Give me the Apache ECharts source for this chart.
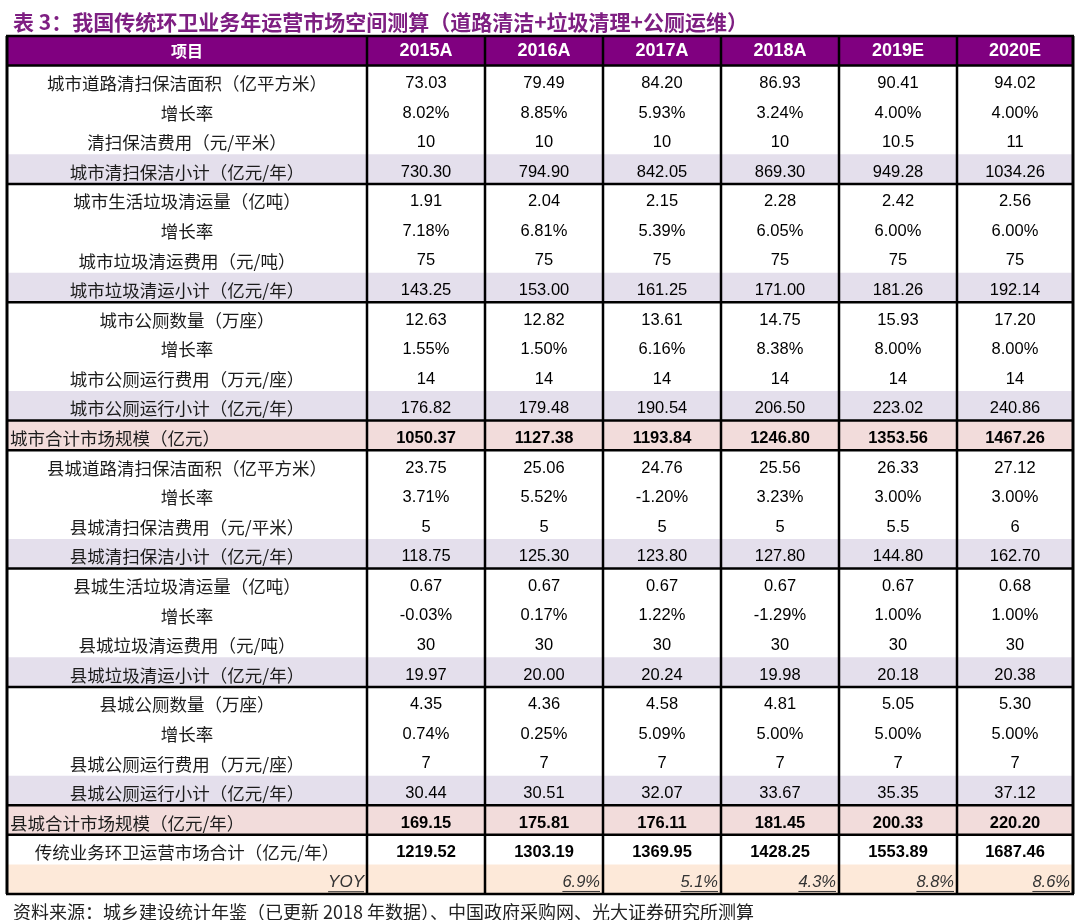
<!DOCTYPE html>
<html><head><meta charset="utf-8">
<script src="https://cdn.jsdelivr.net/npm/echarts@6/dist/echarts.min.js"></script>
<style>html,body{margin:0;padding:0;background:#fff}#c{width:1080px;height:920px}</style>
</head><body><div id="c"></div>
<script>
// ---------- data ----------
const titleText = '表 3：我国传统环卫业务年运营市场空间测算（道路清洁+垃圾清理+公厕运维）';
const sourceText = '资料来源：城乡建设统计年鉴（已更新 2018 年数据）、中国政府采购网、光大证券研究所测算';
const headerLabel = '项目';
const years = ['2015A', '2016A', '2017A', '2018A', '2019E', '2020E'];
const rowLabels = [
  '城市道路清扫保洁面积（亿平方米）', '增长率', '清扫保洁费用（元/平米）', '城市清扫保洁小计（亿元/年）',
  '城市生活垃圾清运量（亿吨）', '增长率', '城市垃圾清运费用（元/吨）', '城市垃圾清运小计（亿元/年）',
  '城市公厕数量（万座）', '增长率', '城市公厕运行费用（万元/座）', '城市公厕运行小计（亿元/年）',
  '城市合计市场规模（亿元）',
  '县城道路清扫保洁面积（亿平方米）', '增长率', '县城清扫保洁费用（元/平米）', '县城清扫保洁小计（亿元/年）',
  '县城生活垃圾清运量（亿吨）', '增长率', '县城垃圾清运费用（元/吨）', '县城垃圾清运小计（亿元/年）',
  '县城公厕数量（万座）', '增长率', '县城公厕运行费用（万元/座）', '县城公厕运行小计（亿元/年）',
  '县城合计市场规模（亿元/年）',
  '传统业务环卫运营市场合计（亿元/年）',
  'YOY'
];
// row kind: n normal, s subtotal, t region total, g grand total, y yoy
const rowKinds = ['n','n','n','s','n','n','n','s','n','n','n','s','t','n','n','n','s','n','n','n','s','n','n','n','s','t','g','y'];
const v2015 = ['73.03','8.02%','10','730.30','1.91','7.18%','75','143.25','12.63','1.55%','14','176.82','1050.37','23.75','3.71%','5','118.75','0.67','-0.03%','30','19.97','4.35','0.74%','7','30.44','169.15','1219.52',''];
const v2016 = ['79.49','8.85%','10','794.90','2.04','6.81%','75','153.00','12.82','1.50%','14','179.48','1127.38','25.06','5.52%','5','125.30','0.67','0.17%','30','20.00','4.36','0.25%','7','30.51','175.81','1303.19','6.9%'];
const v2017 = ['84.20','5.93%','10','842.05','2.15','5.39%','75','161.25','13.61','6.16%','14','190.54','1193.84','24.76','-1.20%','5','123.80','0.67','1.22%','30','20.24','4.58','5.09%','7','32.07','176.11','1369.95','5.1%'];
const v2018 = ['86.93','3.24%','10','869.30','2.28','6.05%','75','171.00','14.75','8.38%','14','206.50','1246.80','25.56','3.23%','5','127.80','0.67','-1.29%','30','19.98','4.81','5.00%','7','33.67','181.45','1428.25','4.3%'];
const v2019 = ['90.41','4.00%','10.5','949.28','2.42','6.00%','75','181.26','15.93','8.00%','14','223.02','1353.56','26.33','3.00%','5.5','144.80','0.67','1.00%','30','20.18','5.05','5.00%','7','35.35','200.33','1553.89','8.8%'];
const v2020 = ['94.02','4.00%','11','1034.26','2.56','6.00%','75','192.14','17.20','8.00%','14','240.86','1467.26','27.12','3.00%','6','162.70','0.68','1.00%','30','20.38','5.30','5.00%','7','37.12','220.20','1687.46','8.6%'];
const yearValues = [v2015, v2016, v2017, v2018, v2019, v2020];

// ---------- layout / style ----------
const COL_EDGES = [0, 360, 478, 596, 714, 832, 950, 1066];
const H_BORDERS = [0, 1, 5, 9, 13, 14, 18, 22, 26, 27, 29];
const FILL = { h: '#800080', n: '#ffffff', s: '#E4DFEC', t: '#F2DCDB', g: '#ffffff', y: '#FDE9D9' };
const NUM_FONT = '"Liberation Sans", Arial, sans-serif';
const CJK_FONT = '"Noto Sans CJK SC", sans-serif';
const NROWS = rowLabels.length + 1;

const measureCtx = document.createElement('canvas').getContext('2d');
function textWidth(t, font) { measureCtx.font = font; return measureCtx.measureText(t).width; }

const cellData = [];
for (let r = 0; r < NROWS; r++) for (let c = 0; c < 7; c++) cellData.push([c, r]);

function renderCell(params, api) {
  const c = api.value(0), r = api.value(1);
  const h = api.size([0, 1])[1];
  const pa = api.coord([COL_EDGES[c], r]);
  const pb = api.coord([COL_EDGES[c + 1], r]);
  const x0 = pa[0], x1 = pb[0], yc = pa[1];
  const kind = r === 0 ? 'h' : rowKinds[r - 1];
  const children = [{
    type: 'rect', shape: { x: x0, y: yc - h / 2, width: x1 - x0, height: h },
    style: { fill: FILL[kind] }
  }];
  let text, font, weight = 'normal', style = 'normal', align = 'center', tx = (x0 + x1) / 2, ty = yc + 3, color = '#111', size = 16;
  if (r === 0) {
    text = c === 0 ? headerLabel : years[c - 1];
    font = c === 0 ? CJK_FONT : NUM_FONT; weight = 'bold'; color = '#ffffff'; size = c === 0 ? 16 : 18; ty = yc;
  } else if (c === 0) {
    text = rowLabels[r - 1]; font = CJK_FONT; size = 17.5; color = '#1c1c1c';
    if (kind === 't') { align = 'left'; tx = x0 + 3; }
    if (kind === 'y') { align = 'right'; tx = x1 - 3; font = NUM_FONT; style = 'italic'; size = 17; color = '#333'; }
  } else {
    text = yearValues[c - 1][r - 1]; font = NUM_FONT; size = 16.5; color = '#000';
    if (kind === 't' || kind === 'g') weight = 'bold';
    if (kind === 'y') { align = 'right'; tx = x1 - 3; style = 'italic'; color = '#333'; }
  }
  if (text) {
    children.push({
      type: 'text',
      style: { text: text, x: tx, y: ty, align: align, verticalAlign: 'middle', fill: color,
        font: style + ' ' + weight + ' ' + size + 'px ' + font }
    });
    if (kind === 'y') {
      const w = textWidth(text, style + ' ' + weight + ' ' + size + 'px ' + font);
      const uy = ty + size / 2 + 1;
      children.push({ type: 'line', shape: { x1: tx - w, y1: uy, x2: tx, y2: uy }, style: { stroke: color, lineWidth: 1 } });
    }
  }
  return { type: 'group', children: children };
}

function renderHBorder(params, api) {
  const k = api.value(0);
  const h = api.size([0, 1])[1];
  const y = api.coord([0, Math.min(k, NROWS - 1)])[1] - h / 2 + (k >= NROWS ? h : 0);
  const xa = api.coord([COL_EDGES[0], 0])[0], xb = api.coord([COL_EDGES[COL_EDGES.length - 1], 0])[0];
  return { type: 'line', shape: { x1: xa - 1, y1: y, x2: xb + 1, y2: y }, style: { stroke: '#000', lineWidth: 2.5 } };
}
function renderVBorder(params, api) {
  const e = api.value(0);
  const h = api.size([0, 1])[1];
  const x = api.coord([COL_EDGES[e], 0])[0];
  const ya = api.coord([0, 0])[1] - h / 2, yb = api.coord([0, NROWS - 1])[1] + h / 2;
  return { type: 'line', shape: { x1: x, y1: ya, x2: x, y2: yb }, style: { stroke: '#000', lineWidth: (e === 0 || e === COL_EDGES.length - 1) ? 3 : 2.5 } };
}

const chart = echarts.init(document.getElementById('c'), null, { renderer: 'canvas' });
chart.setOption({
  animation: false,
  backgroundColor: '#ffffff',
  title: [
    { text: titleText, left: 8, top: 7, textStyle: { fontFamily: CJK_FONT, fontSize: 21, fontWeight: 'bold', color: '#7E1F82' } },
    { text: sourceText, left: 8, top: 898, textStyle: { fontFamily: CJK_FONT, fontSize: 18, fontWeight: 'normal', color: '#222' } }
  ],
  grid: { left: 7, right: 7, top: 36, bottom: 26 },
  xAxis: { type: 'value', min: 0, max: COL_EDGES[COL_EDGES.length - 1], show: false },
  yAxis: { type: 'category', inverse: true, show: false, data: [headerLabel].concat(rowLabels) },
  series: [
    { type: 'custom', renderItem: renderCell, data: cellData, silent: true, z: 1 },
    { type: 'custom', renderItem: renderHBorder, data: H_BORDERS.map(k => [k]), silent: true, z: 2 },
    { type: 'custom', renderItem: renderVBorder, data: COL_EDGES.map((_, i) => [i]), silent: true, z: 3 }
  ]
});
</script></body></html>
